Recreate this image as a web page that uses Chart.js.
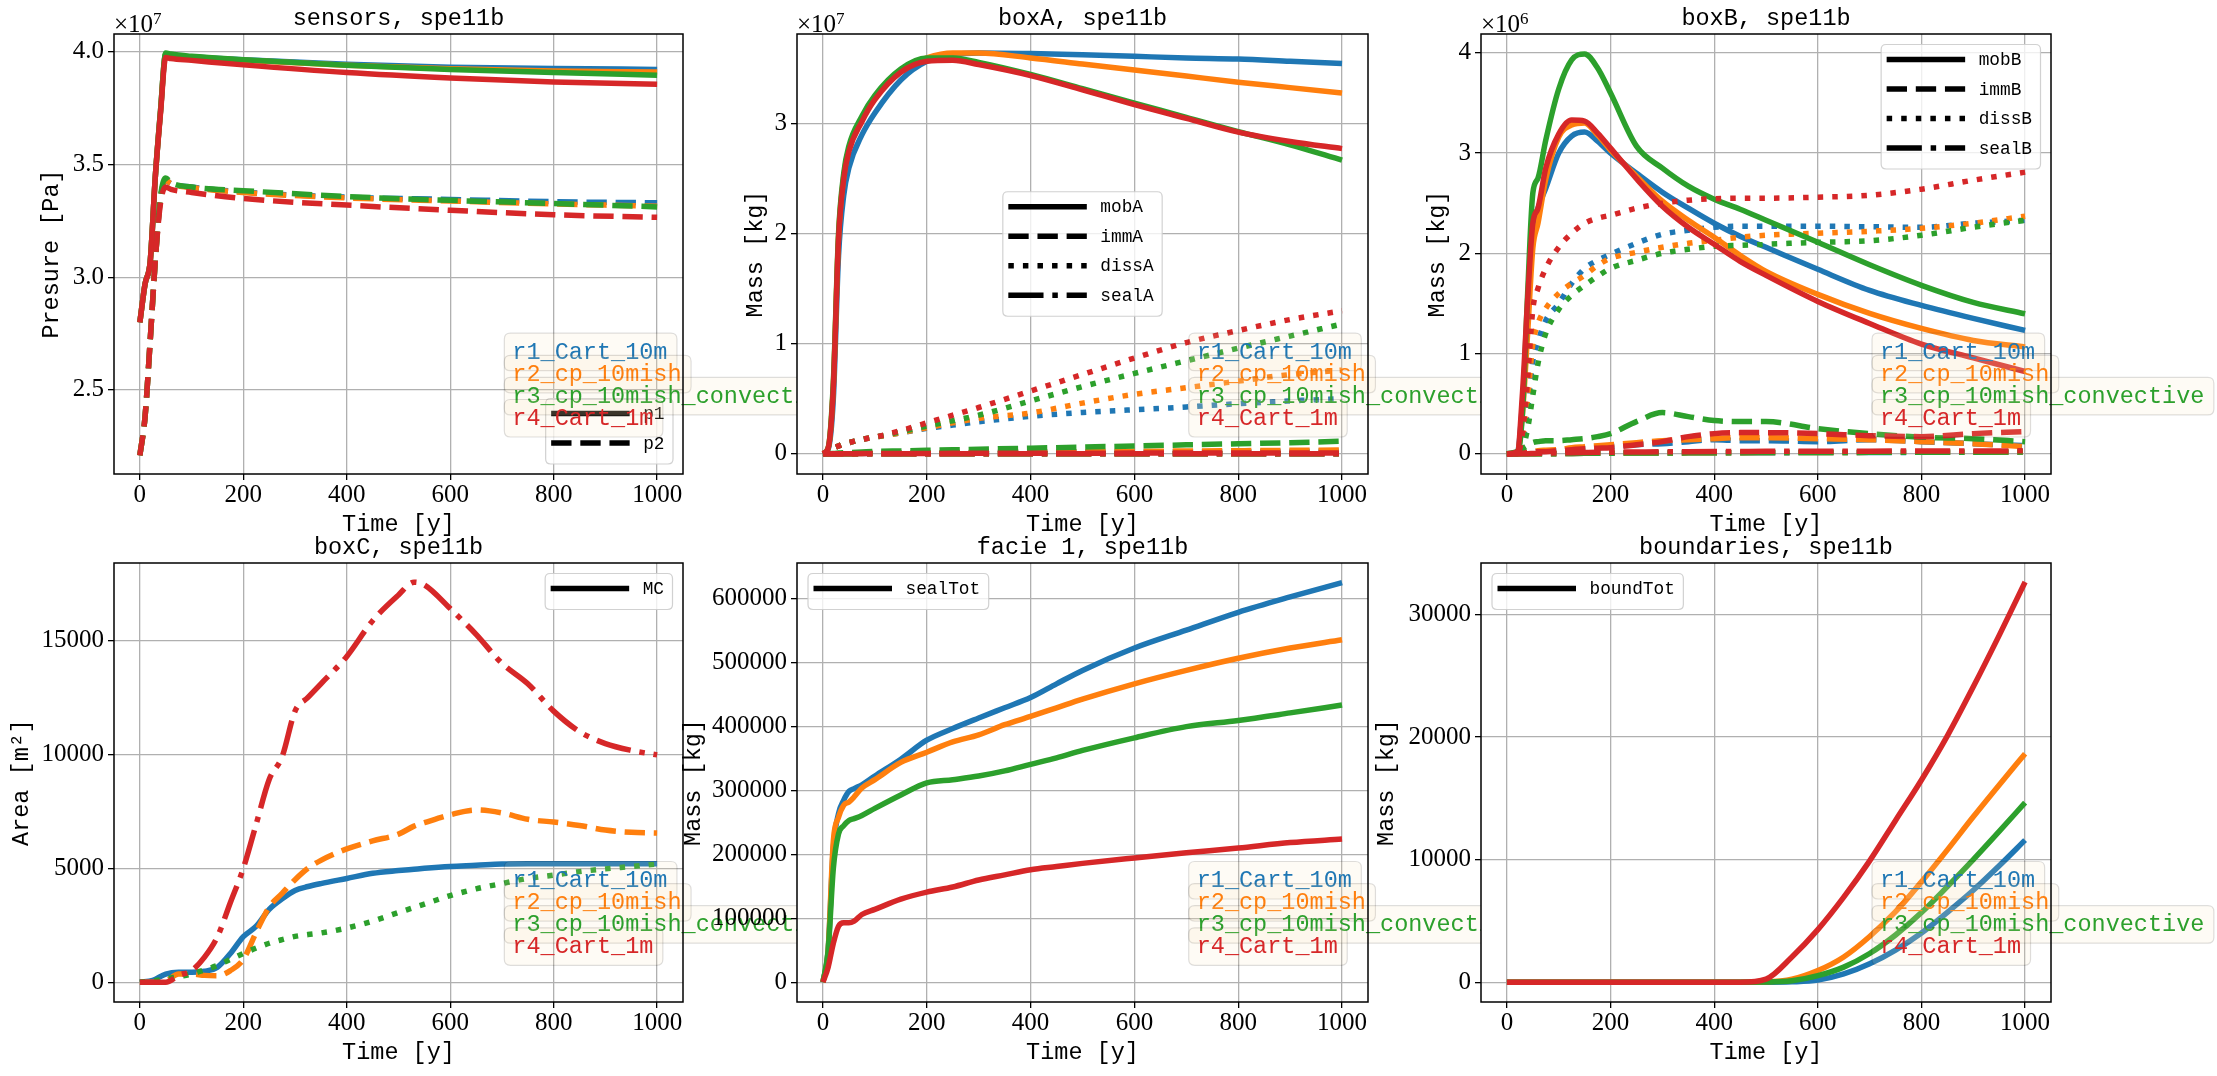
<!DOCTYPE html>
<html>
<head>
<meta charset="utf-8">
<script src="https://cdn.jsdelivr.net/npm/chart.js@4.4.1/dist/chart.umd.min.js"></script>
<style>
  html, body { margin: 0; padding: 0; background: #fff; }
  #fig { position: relative; width: 2217px; height: 1076px; overflow: hidden; background: #fff; }
  #fig canvas { position: absolute; left: 0; top: 0; }
</style>
</head>
<body>
<div id="fig">
  <canvas id="c1" width="2217" height="1076"></canvas>
  <canvas id="c2" width="2217" height="1076"></canvas>
  <canvas id="c3" width="2217" height="1076"></canvas>
  <canvas id="c4" width="2217" height="1076"></canvas>
  <canvas id="c5" width="2217" height="1076"></canvas>
  <canvas id="c6" width="2217" height="1076"></canvas>
</div>
<script>
// runs (r1..r4), same order in every panel
const runs = ['r1_Cart_10m', 'r2_cp_10mish', 'r3_cp_10mish_convective', 'r4_Cart_1m'];
const runColors = ['#1f77b4', '#ff7f0e', '#2ca02c', '#d62728'];
const xTicks = [0, 200, 400, 600, 800, 1000];

// sensors (x 1e7 Pa)
const tSensors = [0, 10, 20, 30, 40, 50, 60, 100, 200, 400, 600, 800, 1000];
const p1 = [
  [2.8, 2.97, 3.07, 3.45, 3.74, 3.99, 3.985, 3.978, 3.965, 3.945, 3.932, 3.926, 3.922],
  [2.8, 2.97, 3.07, 3.45, 3.74, 3.99, 3.985, 3.977, 3.963, 3.94, 3.925, 3.915, 3.91],
  [2.8, 2.97, 3.07, 3.45, 3.74, 3.995, 3.99, 3.98, 3.965, 3.94, 3.922, 3.908, 3.896],
  [2.8, 2.97, 3.07, 3.45, 3.73, 3.975, 3.97, 3.962, 3.942, 3.908, 3.884, 3.866, 3.856]
];
const p2 = [
  [2.21, 2.38, 2.72, 3.08, 3.35, 3.43, 3.415, 3.4, 3.378, 3.355, 3.345, 3.335, 3.33],
  [2.21, 2.38, 2.72, 3.08, 3.35, 3.43, 3.415, 3.398, 3.376, 3.352, 3.338, 3.325, 3.315],
  [2.21, 2.38, 2.72, 3.08, 3.36, 3.44, 3.42, 3.4, 3.384, 3.358, 3.341, 3.327, 3.312],
  [2.21, 2.38, 2.72, 3.08, 3.33, 3.4, 3.39, 3.376, 3.349, 3.32, 3.297, 3.277, 3.266]
];
const sensorsTicks = [2.5, 3.0, 3.5, 4.0];

// boxA (x 1e7 kg)
const tBoxA = [0, 10, 20, 30, 40, 50, 75, 100, 150, 200, 250, 300, 400, 500, 600, 700, 800, 900, 1000];
const mobA = [
  [0, 0.04, 0.5, 1.8, 2.35, 2.6, 2.9, 3.1, 3.4, 3.57, 3.63, 3.645, 3.64, 3.63, 3.615, 3.6, 3.59, 3.57, 3.55],
  [0, 0.05, 0.62, 1.97, 2.52, 2.77, 3.05, 3.24, 3.49, 3.6, 3.645, 3.645, 3.6, 3.545, 3.49, 3.435, 3.38, 3.33, 3.28],
  [0, 0.05, 0.65, 2.0, 2.55, 2.8, 3.07, 3.26, 3.5, 3.6, 3.6, 3.56, 3.45, 3.32, 3.19, 3.06, 2.93, 2.81, 2.67],
  [0, 0.05, 0.6, 1.95, 2.5, 2.75, 3.02, 3.22, 3.47, 3.57, 3.58, 3.54, 3.44, 3.31, 3.175, 3.05, 2.925, 2.84, 2.775]
];
const immA = [
  [0, 0, 0, 0, 0, 0, 0.002, 0.003, 0.005, 0.007, 0.008, 0.009, 0.011, 0.013, 0.015, 0.017, 0.018, 0.02, 0.022],
  [0, 0, 0, 0, 0, 0, 0.002, 0.004, 0.006, 0.008, 0.01, 0.012, 0.015, 0.018, 0.021, 0.024, 0.027, 0.03, 0.033],
  [0, 0, 0.002, 0.005, 0.008, 0.01, 0.015, 0.02, 0.025, 0.03, 0.035, 0.04, 0.05, 0.06, 0.07, 0.08, 0.09, 0.1, 0.113],
  [0, 0, 0, 0, 0, 0, 0.001, 0.001, 0.002, 0.002, 0.003, 0.003, 0.004, 0.004, 0.005, 0.005, 0.006, 0.006, 0.007]
];
const dissA = [
  [0, 0.02, 0.05, 0.07, 0.09, 0.1, 0.13, 0.15, 0.19, 0.23, 0.26, 0.29, 0.34, 0.375, 0.4, 0.425, 0.455, 0.48, 0.5],
  [0, 0.02, 0.05, 0.07, 0.09, 0.1, 0.13, 0.15, 0.19, 0.235, 0.28, 0.32, 0.37, 0.46, 0.54, 0.6, 0.66, 0.72, 0.76],
  [0, 0.02, 0.05, 0.07, 0.09, 0.1, 0.13, 0.15, 0.2, 0.25, 0.3, 0.35, 0.48, 0.61, 0.73, 0.845, 0.96, 1.07, 1.18],
  [0, 0.02, 0.05, 0.07, 0.09, 0.1, 0.13, 0.15, 0.21, 0.28, 0.35, 0.42, 0.57, 0.72, 0.87, 1.01, 1.12, 1.22, 1.3]
];
const sealA = [
  [0, 0, 0, 0, 0, 0, 0, 0, 0, 0, 0, 0, 0, 0, 0, 0, 0, 0, 0],
  [0, 0, 0, 0, 0, 0, 0, 0, 0, 0, 0, 0, 0, 0, 0, 0, 0, 0, 0],
  [0, 0, 0, 0, 0, 0, 0, 0, 0, 0, 0, 0, 0, 0, 0, 0, 0, 0, 0],
  [0, 0, 0, 0, 0, 0, 0, 0, 0, 0, 0, 0, 0, 0, 0, 0, 0, 0, 0]
];
const boxATicks = [0, 1, 2, 3];

// boxB (x 1e6 kg)
const tBoxB = [0, 20, 30, 40, 50, 60, 75, 100, 125, 150, 175, 200, 250, 300, 350, 400, 450, 500, 600, 700, 800, 900, 1000];
const mobB = [
  [0, 0.01, 0.5, 1.4, 2.25, 2.45, 2.65, 3.0, 3.17, 3.21, 3.12, 3.0, 2.8, 2.61, 2.45, 2.3, 2.17, 2.06, 1.84, 1.63, 1.48, 1.35, 1.23],
  [0, 0.01, 0.4, 1.2, 2.05, 2.3, 2.74, 3.16, 3.28, 3.3, 3.18, 3.03, 2.77, 2.52, 2.33, 2.16, 1.98, 1.82, 1.59, 1.4, 1.25, 1.13, 1.066],
  [0, 0, 0.4, 1.6, 2.6, 2.75, 3.13, 3.64, 3.93, 3.99, 3.85, 3.6, 3.07, 2.85, 2.67, 2.54, 2.44, 2.33, 2.11, 1.885, 1.68, 1.51, 1.396],
  [0, 0.02, 0.6, 1.54, 2.3, 2.45, 2.85, 3.19, 3.33, 3.32, 3.2, 3.05, 2.745, 2.47, 2.26, 2.09, 1.92, 1.78, 1.52, 1.3, 1.094, 0.956, 0.82]
];
const immB = [
  [0, 0, 0.005, 0.01, 0.015, 0.02, 0.025, 0.03, 0.04, 0.05, 0.06, 0.07, 0.09, 0.1, 0.12, 0.14, 0.13, 0.13, 0.12, 0.14, 0.12, 0.1, 0.08],
  [0, 0, 0.005, 0.015, 0.02, 0.03, 0.035, 0.04, 0.06, 0.07, 0.08, 0.09, 0.11, 0.13, 0.14, 0.15, 0.16, 0.16, 0.15, 0.14, 0.12, 0.1, 0.07],
  [0, 0.02, 0.05, 0.08, 0.11, 0.12, 0.13, 0.13, 0.14, 0.15, 0.17, 0.2, 0.32, 0.41, 0.37, 0.33, 0.32, 0.32, 0.25, 0.2, 0.165, 0.15, 0.12],
  [0, 0, 0.005, 0.01, 0.015, 0.02, 0.02, 0.03, 0.04, 0.05, 0.055, 0.06, 0.09, 0.12, 0.17, 0.2, 0.21, 0.21, 0.2, 0.18, 0.17, 0.2, 0.22]
];
const dissB = [
  [0, 0, 0.1, 0.45, 0.92, 1.12, 1.33, 1.5, 1.7, 1.85, 1.93, 1.99, 2.1, 2.19, 2.23, 2.26, 2.27, 2.27, 2.27, 2.265, 2.26, 2.3, 2.33],
  [0, 0, 0.15, 0.55, 1.09, 1.3, 1.45, 1.6, 1.7, 1.78, 1.88, 1.95, 2.01, 2.06, 2.1, 2.13, 2.16, 2.18, 2.2, 2.22, 2.25, 2.3, 2.37],
  [0, 0, 0.05, 0.25, 0.58, 0.9, 1.2, 1.44, 1.58, 1.68, 1.77, 1.85, 1.93, 2.0, 2.04, 2.07, 2.08, 2.09, 2.11, 2.125, 2.18, 2.26, 2.33],
  [0, 0, 0.2, 0.75, 1.44, 1.65, 1.85, 2.06, 2.2, 2.3, 2.35, 2.38, 2.45, 2.5, 2.53, 2.545, 2.55, 2.55, 2.56, 2.58, 2.64, 2.73, 2.81]
];
const sealB = [
  [0, 0, 0, 0, 0, 0, 0, 0, 0.002, 0.003, 0.004, 0.005, 0.006, 0.007, 0.008, 0.009, 0.01, 0.01, 0.011, 0.012, 0.013, 0.014, 0.015],
  [0, 0, 0, 0, 0, 0, 0, 0, 0.002, 0.003, 0.004, 0.005, 0.006, 0.007, 0.008, 0.009, 0.01, 0.011, 0.012, 0.013, 0.014, 0.015, 0.016],
  [0, 0, 0, 0, 0, 0, 0, 0, 0.002, 0.003, 0.004, 0.005, 0.006, 0.007, 0.008, 0.009, 0.01, 0.011, 0.012, 0.013, 0.014, 0.015, 0.016],
  [0, 0, 0, 0, 0.002, 0.004, 0.006, 0.008, 0.01, 0.012, 0.014, 0.015, 0.017, 0.019, 0.02, 0.021, 0.022, 0.023, 0.024, 0.025, 0.026, 0.027, 0.028]
];
const boxBTicks = [0, 1, 2, 3, 4];

// boxC, MC area (m2)
const tBoxC = [0, 25, 50, 75, 100, 125, 150, 175, 200, 225, 250, 275, 300, 325, 350, 400, 450, 500, 530, 550, 600, 650, 700, 750, 800, 850, 900, 950, 1000];
const areaC = [
  [0, 80, 360, 435, 435, 480, 660, 1260, 2000, 2460, 3200, 3660, 4030, 4200, 4330, 4555, 4780, 4900, 4960, 5000, 5080, 5130, 5185, 5200, 5200, 5200, 5200, 5200, 5200],
  [0, 0, 50, 360, 360, 300, 285, 510, 1000, 2200, 3300, 3900, 4500, 5000, 5350, 5850, 6200, 6500, 6850, 7000, 7350, 7560, 7430, 7150, 7030, 6880, 6680, 6580, 6550],
  [0, 60, 135, 250, 360, 540, 735, 1000, 1260, 1500, 1710, 1870, 2010, 2090, 2160, 2380, 2680, 3060, 3280, 3430, 3800, 4100, 4330, 4555, 4700, 4855, 4975, 5080, 5185],
  [0, 0, 0, 300, 510, 1100, 2000, 3500, 5000, 6950, 8900, 9900, 11900, 12500, 13100, 14300, 15870, 17000, 17560, 17440, 16400, 15270, 14000, 13100, 11900, 11000, 10475, 10175, 9980]
];
const areaStyles = ['solid', 'dashed', 'dotted', 'dashdot'];
const boxCTicks = [0, 5000, 10000, 15000];

// facie 1, sealTot (kg)
const tFacie = [0, 10, 20, 30, 40, 50, 60, 75, 100, 150, 200, 250, 300, 350, 400, 450, 500, 600, 700, 800, 900, 1000];
const sealTot = [
  [0, 50000, 210000, 264000, 285000, 298600, 303000, 309000, 322600, 349000, 378700, 397000, 413500, 429500, 445500, 467000, 488000, 523000, 551000, 579000, 603000, 625500],
  [0, 50000, 221000, 258000, 277000, 282000, 290000, 304000, 317000, 344000, 360000, 376000, 387000, 403000, 416000, 429500, 443000, 467000, 488000, 507000, 523000, 536000],
  [0, 50000, 178000, 232000, 245000, 253000, 256000, 261000, 272000, 293000, 312000, 317000, 322600, 330700, 341000, 351000, 362700, 382500, 400000, 409700, 421500, 433800],
  [0, 23500, 61000, 87600, 93000, 93000, 95600, 106000, 114000, 130000, 141000, 149000, 160000, 168000, 176000, 181000, 186000, 194500, 202500, 210000, 218500, 224000]
];
const facieTicks = [0, 100000, 200000, 300000, 400000, 500000, 600000];

// boundaries, boundTot (kg)
const tBound = [0, 450, 500, 550, 600, 650, 700, 750, 800, 850, 900, 950, 1000];
const boundTot = [
  [0, 0, 0, 30, 170, 670, 1500, 2620, 4010, 5700, 7500, 9500, 11590],
  [0, 0, 30, 250, 950, 2060, 3730, 5750, 8190, 10800, 13500, 16100, 18640],
  [0, 0, 10, 110, 530, 1230, 2340, 3850, 5680, 7800, 10000, 12300, 14650],
  [0, 0, 250, 2060, 4290, 6940, 9900, 13200, 16500, 20100, 24100, 28300, 32650]
];
const boundTicks = [0, 10000, 20000, 30000];

// ---- layout / style ----
const W = 2217, H = 1076, YW = 100, XH = 40, LW = 5.5;
const colL = [114, 797, 1481], colR = [683, 1368, 2051];
const rowT = [34, 563], rowB = [474, 1002];
const SERIF = '"Liberation Serif", "DejaVu Serif", serif';
const MONO = '"Liberation Mono", "DejaVu Sans Mono", monospace';

function dashFor(style) {
  if (style === 'dashed') return [3.7 * LW, 1.6 * LW];
  if (style === 'dotted') return [LW, 1.65 * LW];
  if (style === 'dashdot') return [6.4 * LW, 1.6 * LW, LW, 1.6 * LW];
  return [];
}

function roundRect(ctx, x, y, w, h, r) {
  ctx.beginPath();
  ctx.moveTo(x + r, y);
  ctx.lineTo(x + w - r, y);
  ctx.quadraticCurveTo(x + w, y, x + w, y + r);
  ctx.lineTo(x + w, y + h - r);
  ctx.quadraticCurveTo(x + w, y + h, x + w - r, y + h);
  ctx.lineTo(x + r, y + h);
  ctx.quadraticCurveTo(x, y + h, x, y + h - r);
  ctx.lineTo(x, y + r);
  ctx.quadraticCurveTo(x, y, x + r, y);
  ctx.closePath();
}

function drawDecor(ctx, p, L, R, T, B) {
  ctx.save();
  // style legend (black handles)
  const items = p.styleLegend.items;
  ctx.font = '17.8px ' + MONO;
  let tw = 0;
  items.forEach(it => { tw = Math.max(tw, ctx.measureText(it[0]).width); });
  const lw = 97.5 + tw + 8.5, lh = 36 + (items.length - 1) * 29.5;
  let lx, ly;
  const loc = p.styleLegend.loc;
  if (loc === 'lower right') { lx = R - 10 - lw; ly = B - 10 - lh; }
  else if (loc === 'center') { lx = (L + R) / 2 - lw / 2; ly = (T + B) / 2 - lh / 2; }
  else if (loc === 'upper right') { lx = R - 10.5 - lw; ly = T + 10.5; }
  else { lx = L + 11; ly = T + 10.5; }
  roundRect(ctx, lx, ly, lw, lh, 5);
  ctx.fillStyle = 'rgba(255,255,255,0.8)';
  ctx.fill();
  ctx.strokeStyle = 'rgba(204,204,204,0.9)';
  ctx.lineWidth = 1.2;
  ctx.stroke();
  items.forEach((it, i) => {
    const y = ly + 15 + i * 29.5;
    ctx.beginPath();
    ctx.setLineDash(dashFor(it[1]));
    ctx.lineCap = 'butt';
    ctx.lineWidth = LW;
    ctx.strokeStyle = '#000';
    ctx.moveTo(lx + 5.5, y);
    ctx.lineTo(lx + 84, y);
    ctx.stroke();
    ctx.setLineDash([]);
    ctx.fillStyle = '#000';
    ctx.textAlign = 'left';
    ctx.textBaseline = 'middle';
    ctx.fillText(it[0], lx + 97.5, y + 1);
  });

  // run legends (coloured text boxes)
  ctx.font = '23.5px ' + MONO;
  const bx = L + 0.686 * (R - L);
  const by0 = T + 0.68 * (B - T);
  runs.forEach((name, i) => {
    const w = ctx.measureText(name).width + 17.5;
    const y = by0 + i * 22.1;
    roundRect(ctx, bx, y, w, 37.5, 6);
    ctx.fillStyle = 'rgba(245,222,179,0.13)';
    ctx.fill();
    ctx.strokeStyle = 'rgba(0,0,0,0.13)';
    ctx.lineWidth = 1.2;
    ctx.stroke();
    ctx.fillStyle = runColors[i];
    ctx.textAlign = 'left';
    ctx.textBaseline = 'alphabetic';
    ctx.fillText(name, bx + 8, y + 25.3);
  });

  // frame
  ctx.strokeStyle = '#000';
  ctx.lineWidth = 1.5;
  ctx.strokeRect(L, T, R - L, B - T);

  // title and axis labels
  ctx.fillStyle = '#000';
  ctx.font = '23.5px ' + MONO;
  ctx.textAlign = 'center';
  ctx.textBaseline = 'middle';
  ctx.fillText(p.title, (L + R) / 2, T - 15);
  ctx.fillText('Time [y]', (L + R) / 2, B + 51);
  ctx.save();
  ctx.translate(p.ylabelX, (T + B) / 2);
  ctx.rotate(-Math.PI / 2);
  ctx.fillText(p.ylabel, 0, 0);
  ctx.restore();

  // offset text x10^n
  if (p.offset) {
    ctx.textAlign = 'left';
    ctx.textBaseline = 'alphabetic';
    ctx.font = '25px ' + SERIF;
    ctx.fillText('\u00d710', L, T - 2);
    const ow = ctx.measureText('\u00d710').width;
    ctx.font = '17px ' + SERIF;
    ctx.fillText(p.offset, L + ow, T - 10);
  }
  ctx.restore();
}

function panel(canvasId, p) {
  const L = colL[p.col], R = colR[p.col], T = rowT[p.row], B = rowB[p.row];
  // Chart.js paints dataset 0 last, so reverse to keep the plotting order (r4 on top)
  const datasets = p.series.map(s => ({
    data: s.t.map((t, i) => ({ x: t, y: s.v[i] })),
    borderColor: s.color,
    borderWidth: LW,
    borderDash: dashFor(s.style),
    borderCapStyle: 'butt',
    pointRadius: 0,
    fill: false,
    cubicInterpolationMode: 'monotone'
  })).reverse();
  const tickFont = { family: SERIF, size: 25 };
  const grid = { color: '#b0b0b0', lineWidth: 1.3, tickColor: '#000', tickLength: 6, tickWidth: 1.3 };
  return new Chart(document.getElementById(canvasId), {
    type: 'line',
    data: { datasets },
    options: {
      responsive: false,
      animation: false,
      devicePixelRatio: 1,
      events: [],
      layout: { padding: { left: L - YW, right: W - R, top: T, bottom: H - B - XH } },
      plugins: { legend: { display: false }, tooltip: { enabled: false }, title: { display: false } },
      scales: {
        x: {
          type: 'linear', min: -50, max: 1050,
          afterBuildTicks: s => { s.ticks = xTicks.map(v => ({ value: v })); },
          afterFit: s => { s.height = XH; },
          ticks: { font: tickFont, color: '#000', padding: 0, maxRotation: 0, autoSkip: false, callback: v => String(v) },
          grid: grid,
          border: { display: false }
        },
        y: {
          type: 'linear', min: p.yMin, max: p.yMax,
          afterBuildTicks: s => { s.ticks = p.yTicks.map(v => ({ value: v })); },
          afterFit: s => { s.width = YW; },
          ticks: { font: tickFont, color: '#000', padding: 4, autoSkip: false, callback: p.yFmt },
          grid: grid,
          border: { display: false }
        }
      }
    },
    plugins: [{
      id: 'decor',
      beforeDraw(chart) {
        const ctx = chart.ctx;
        ctx.save();
        ctx.fillStyle = '#fff';
        ctx.fillRect(L, T, R - L, B - T);
        ctx.restore();
      },
      afterDraw(chart) { drawDecor(chart.ctx, p, L, R, T, B); }
    }]
  });
}

// series lists: runs outer, quantities inner (red plotted last)
function byRun(t, quantities) {
  const out = [];
  runs.forEach((r, i) => {
    quantities.forEach(q => out.push({ t: t, v: q[0][i], color: runColors[i], style: q[1] }));
  });
  return out;
}

const intFmt = v => String(v);

panel('c1', {
  col: 0, row: 0, title: 'sensors, spe11b', ylabel: 'Presure [Pa]', ylabelX: 52,
  yMin: 2.127, yMax: 4.079, yTicks: sensorsTicks, yFmt: v => v.toFixed(1), offset: '7',
  styleLegend: { loc: 'lower right', items: [['p1', 'solid'], ['p2', 'dashed']] },
  series: byRun(tSensors, [[p1, 'solid'], [p2, 'dashed']])
});
panel('c2', {
  col: 1, row: 0, title: 'boxA, spe11b', ylabel: 'Mass [kg]', ylabelX: 756,
  yMin: -0.185, yMax: 3.818, yTicks: boxATicks, yFmt: intFmt, offset: '7',
  styleLegend: { loc: 'center', items: [['mobA', 'solid'], ['immA', 'dashed'], ['dissA', 'dotted'], ['sealA', 'dashdot']] },
  series: byRun(tBoxA, [[mobA, 'solid'], [immA, 'dashed'], [dissA, 'dotted'], [sealA, 'dashdot']])
});
panel('c3', {
  col: 2, row: 0, title: 'boxB, spe11b', ylabel: 'Mass [kg]', ylabelX: 1438,
  yMin: -0.203, yMax: 4.189, yTicks: boxBTicks, yFmt: intFmt, offset: '6',
  styleLegend: { loc: 'upper right', items: [['mobB', 'solid'], ['immB', 'dashed'], ['dissB', 'dotted'], ['sealB', 'dashdot']] },
  series: byRun(tBoxB, [[mobB, 'solid'], [immB, 'dashed'], [dissB, 'dotted'], [sealB, 'dashdot']])
});
panel('c4', {
  col: 0, row: 1, title: 'boxC, spe11b', ylabel: 'Area [m\u00b2]', ylabelX: 22,
  yMin: -869, yMax: 18402, yTicks: boxCTicks, yFmt: intFmt,
  styleLegend: { loc: 'upper right', items: [['MC', 'solid']] },
  series: runs.map((r, i) => ({ t: tBoxC, v: areaC[i], color: runColors[i], style: areaStyles[i] }))
});
panel('c5', {
  col: 1, row: 1, title: 'facie 1, spe11b', ylabel: 'Mass [kg]', ylabelX: 694,
  yMin: -30990, yMax: 656100, yTicks: facieTicks, yFmt: intFmt,
  styleLegend: { loc: 'upper left', items: [['sealTot', 'solid']] },
  series: byRun(tFacie, [[sealTot, 'solid']])
});
panel('c6', {
  col: 2, row: 1, title: 'boundaries, spe11b', ylabel: 'Mass [kg]', ylabelX: 1387,
  yMin: -1616, yMax: 34206, yTicks: boundTicks, yFmt: intFmt,
  styleLegend: { loc: 'upper left', items: [['boundTot', 'solid']] },
  series: byRun(tBound, [[boundTot, 'solid']])
});
</script>
</body>
</html>
